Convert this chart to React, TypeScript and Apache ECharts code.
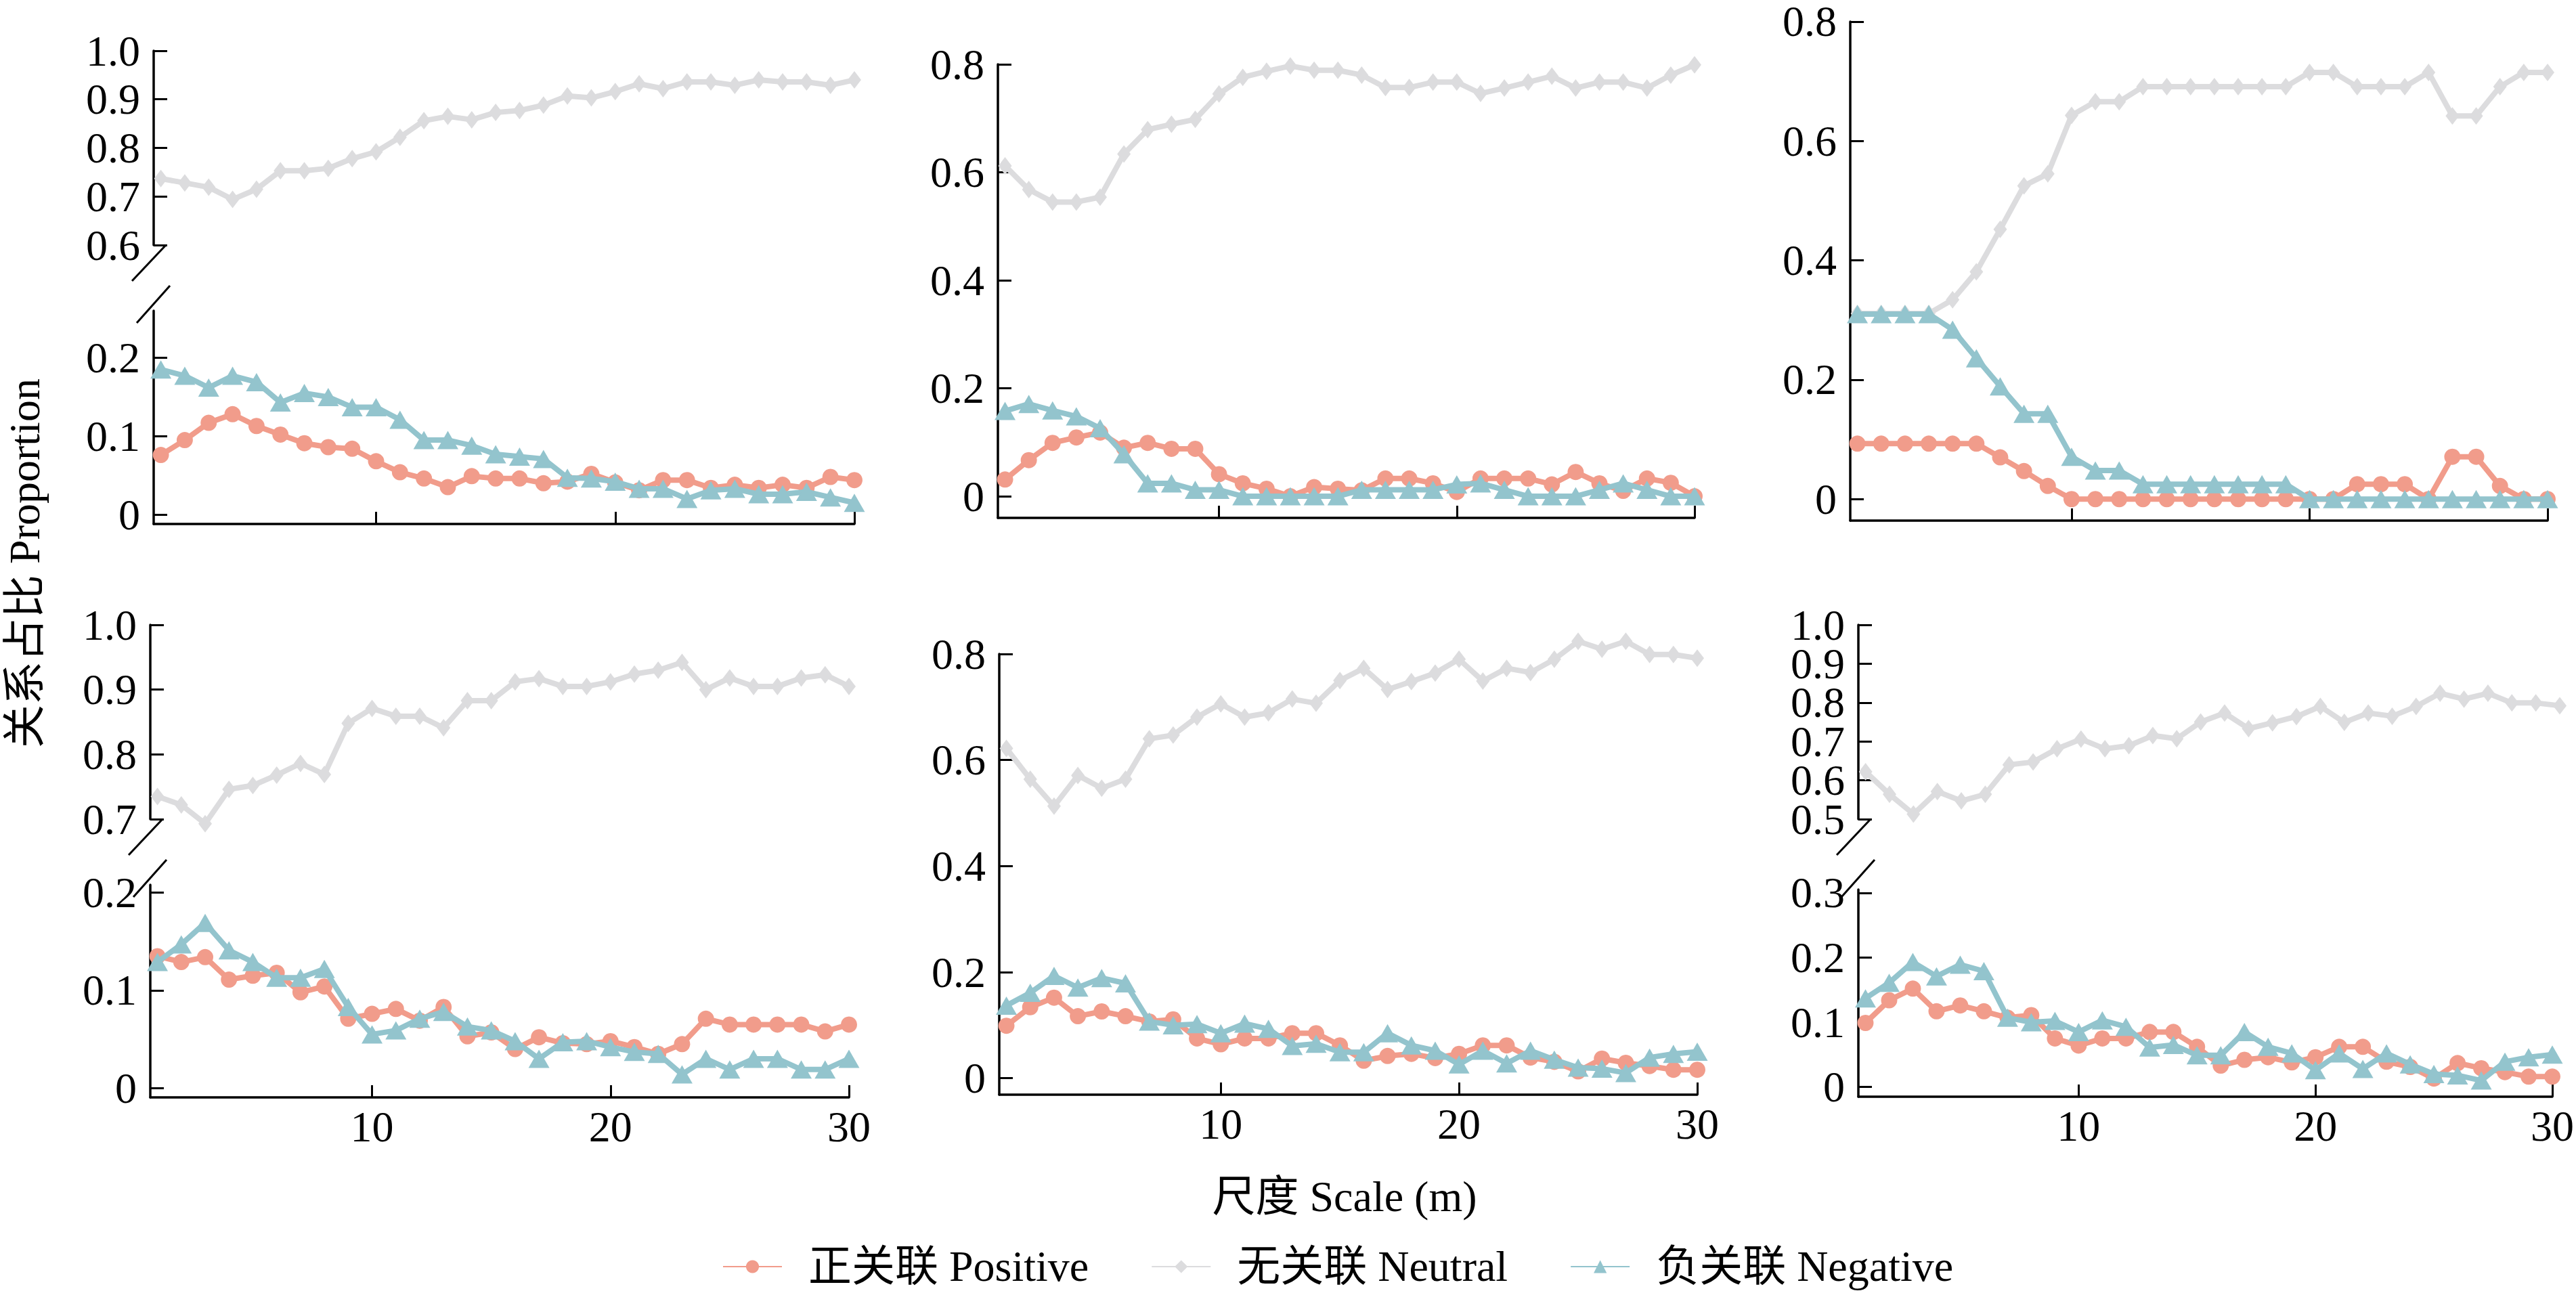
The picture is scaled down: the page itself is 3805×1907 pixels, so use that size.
import { useEffect, useRef } from 'react';
import * as echarts from 'echarts';

// 尺度 (m)
const SCALES = [1, 2, 3, 4, 5, 6, 7, 8, 9, 10, 11, 12, 13, 14, 15, 16, 17, 18, 19, 20, 21, 22, 23, 24, 25, 26, 27, 28, 29, 30];
const X_TICKS = [10, 20, 30];

const NAMES = ['正关联 Positive', '无关联 Neutral', '负关联 Negative'];

// panel 1 (top left)
const P1_POS = [0.076, 0.095, 0.117, 0.128, 0.113, 0.102, 0.091, 0.086, 0.084, 0.068, 0.054, 0.046, 0.035, 0.049, 0.046, 0.046, 0.040, 0.042, 0.052, 0.041, 0.031, 0.044, 0.044, 0.034, 0.038, 0.034, 0.038, 0.034, 0.048, 0.044];
const P1_NEU = [0.737, 0.728, 0.719, 0.694, 0.715, 0.753, 0.753, 0.758, 0.778, 0.792, 0.822, 0.856, 0.865, 0.858, 0.873, 0.877, 0.888, 0.907, 0.903, 0.916, 0.932, 0.922, 0.936, 0.936, 0.929, 0.940, 0.936, 0.936, 0.929, 0.940];
const P1_NEG = [0.185, 0.177, 0.162, 0.177, 0.169, 0.143, 0.155, 0.150, 0.137, 0.137, 0.121, 0.095, 0.095, 0.088, 0.077, 0.074, 0.071, 0.047, 0.046, 0.042, 0.033, 0.033, 0.020, 0.031, 0.033, 0.026, 0.026, 0.029, 0.022, 0.015];

// panel 2 (top middle)
const P2_POS = [0.031, 0.067, 0.099, 0.109, 0.118, 0.090, 0.099, 0.088, 0.088, 0.041, 0.024, 0.014, 0.000, 0.017, 0.014, 0.011, 0.033, 0.033, 0.024, 0.008, 0.033, 0.033, 0.033, 0.022, 0.045, 0.024, 0.010, 0.033, 0.025, 0.000];
const P2_NEU = [0.612, 0.568, 0.545, 0.545, 0.554, 0.634, 0.679, 0.689, 0.698, 0.745, 0.776, 0.787, 0.797, 0.789, 0.789, 0.780, 0.757, 0.757, 0.767, 0.767, 0.746, 0.756, 0.767, 0.778, 0.756, 0.767, 0.767, 0.756, 0.780, 0.799];
const P2_NEG = [0.158, 0.171, 0.159, 0.148, 0.126, 0.078, 0.024, 0.024, 0.012, 0.012, 0, 0, 0, 0, 0, 0.012, 0.012, 0.012, 0.012, 0.022, 0.024, 0.012, 0, 0, 0, 0.012, 0.024, 0.012, 0, 0];

// panel 3 (top right)
const P3_POS = [0.093, 0.093, 0.093, 0.093, 0.093, 0.093, 0.070, 0.047, 0.022, 0, 0, 0, 0, 0, 0, 0, 0, 0, 0, 0, 0, 0.025, 0.025, 0.025, 0, 0.071, 0.071, 0.022, 0, 0];
const P3_NEU = [0.311, 0.311, 0.311, 0.311, 0.334, 0.381, 0.452, 0.525, 0.545, 0.643, 0.666, 0.666, 0.691, 0.691, 0.691, 0.691, 0.691, 0.691, 0.691, 0.715, 0.715, 0.691, 0.691, 0.691, 0.715, 0.642, 0.642, 0.691, 0.715, 0.715];
const P3_NEG = [0.31, 0.31, 0.31, 0.31, 0.284, 0.236, 0.189, 0.143, 0.143, 0.071, 0.048, 0.048, 0.025, 0.025, 0.025, 0.025, 0.025, 0.025, 0.025, 0, 0, 0, 0, 0, 0, 0, 0, 0, 0, 0];

// panel 4 (bottom left)
const P4_POS = [0.135, 0.129, 0.134, 0.111, 0.115, 0.118, 0.098, 0.104, 0.071, 0.076, 0.081, 0.069, 0.083, 0.053, 0.057, 0.040, 0.052, 0.046, 0.045, 0.048, 0.042, 0.035, 0.045, 0.071, 0.065, 0.065, 0.065, 0.065, 0.058, 0.065];
const P4_NEU = [0.735, 0.722, 0.693, 0.746, 0.752, 0.768, 0.786, 0.769, 0.848, 0.871, 0.859, 0.859, 0.841, 0.883, 0.883, 0.912, 0.917, 0.905, 0.905, 0.912, 0.924, 0.930, 0.942, 0.900, 0.918, 0.905, 0.905, 0.918, 0.923, 0.905];
const P4_NEG = [0.129, 0.147, 0.169, 0.141, 0.129, 0.113, 0.113, 0.122, 0.083, 0.055, 0.059, 0.071, 0.078, 0.063, 0.059, 0.048, 0.030, 0.047, 0.048, 0.042, 0.037, 0.035, 0.014, 0.030, 0.019, 0.030, 0.030, 0.019, 0.019, 0.030];

// panel 5 (bottom middle); panel 6 shows the same values
const P5_POS = [0.099, 0.134, 0.152, 0.117, 0.126, 0.117, 0.107, 0.111, 0.075, 0.064, 0.075, 0.075, 0.085, 0.085, 0.062, 0.033, 0.042, 0.046, 0.038, 0.046, 0.062, 0.062, 0.039, 0.031, 0.013, 0.037, 0.029, 0.023, 0.016, 0.016];
const P5_NEU = [0.622, 0.564, 0.513, 0.571, 0.547, 0.564, 0.640, 0.647, 0.681, 0.706, 0.681, 0.689, 0.715, 0.707, 0.750, 0.773, 0.733, 0.748, 0.764, 0.790, 0.749, 0.773, 0.765, 0.790, 0.824, 0.809, 0.824, 0.799, 0.799, 0.792];
const P5_NEG = [0.137, 0.161, 0.193, 0.171, 0.189, 0.179, 0.107, 0.100, 0.102, 0.085, 0.103, 0.093, 0.061, 0.065, 0.049, 0.049, 0.085, 0.062, 0.052, 0.026, 0.052, 0.028, 0.052, 0.035, 0.020, 0.018, 0.010, 0.039, 0.046, 0.050];
const P6_POS = P5_POS;
const P6_NEU = P5_NEU;
const P6_NEG = P5_NEG;

// y tick labels
const TICKS_06_10 = [0.6, 0.7, 0.8, 0.9, 1.0];
const TICKS_07_10 = [0.7, 0.8, 0.9, 1.0];
const TICKS_05_10 = [0.5, 0.6, 0.7, 0.8, 0.9, 1.0];
const TICKS_0_02 = [0, 0.1, 0.2];
const TICKS_0_03 = [0, 0.1, 0.2, 0.3];
const TICKS_0_08 = [0, 0.2, 0.4, 0.6, 0.8];

const COLORS = ['#F19C8B', '#DCDCDE', '#93C4CD'];
const FONT = "'Liberation Serif', 'Noto Sans CJK SC', serif";

interface Part { top: number; bottom: number; min: number; max: number; ticks: number[]; dense?: boolean }
interface Panel {
    left: number; right: number; bottomRow: boolean;
    upper?: Part; lower: Part;
    pos: number[]; neu: number[]; neg: number[];
}

const PANELS: Panel[] = [
    { left: 227, right: 1262, bottomRow: false, pos: P1_POS, neu: P1_NEU, neg: P1_NEG,
      upper: { top: 75, bottom: 362, min: 0.6, max: 1.0, ticks: TICKS_06_10 },
      lower: { top: 459, bottom: 774, min: -0.012, max: 0.26, ticks: TICKS_0_02 } },
    { left: 1474, right: 2503, bottomRow: false, pos: P2_POS, neu: P2_NEU, neg: P2_NEG,
      lower: { top: 95, bottom: 765, min: -0.04, max: 0.8, ticks: TICKS_0_08 } },
    { left: 2733, right: 3763, bottomRow: false, pos: P3_POS, neu: P3_NEU, neg: P3_NEG,
      lower: { top: 20, bottom: 769, min: -0.036, max: 0.8, ticks: TICKS_0_08 } },
    { left: 222, right: 1254, bottomRow: true, pos: P4_POS, neu: P4_NEU, neg: P4_NEG,
      upper: { top: 923, bottom: 1210, min: 0.7, max: 1.0, ticks: TICKS_07_10 },
      lower: { top: 1307, bottom: 1621, min: -0.0095, max: 0.208, ticks: TICKS_0_02 } },
    { left: 1476, right: 2507, bottomRow: true, pos: P5_POS, neu: P5_NEU, neg: P5_NEG,
      lower: { top: 966, bottom: 1617, min: -0.031, max: 0.8, ticks: TICKS_0_08 } },
    { left: 2745, right: 3781, bottomRow: true, pos: P6_POS, neu: P6_NEU, neg: P6_NEG,
      upper: { top: 923, bottom: 1210, min: 0.5, max: 1.0, ticks: TICKS_05_10, dense: true },
      lower: { top: 1314, bottom: 1620, min: -0.015, max: 0.305, ticks: TICKS_0_03 } },
];

const fmt = (v: number) => (Math.abs(v) < 1e-9 ? '0' : v.toFixed(1));

function labelOpt(values: number[]) {
    return {
        customValues: values, formatter: fmt, fontSize: 64, lineHeight: 44,
        fontFamily: FONT, color: '#000', margin: 20, hideOverlap: false,
        showMinLabel: true, showMaxLabel: true,
    };
}

// returns one or two y axes (dense tick labels are split over two axes so none get dropped)
function yAxesFor(gridIndex: number, p: Part) {
    const main = {
        type: 'value', gridIndex, min: p.min, max: p.max,
        axisLine: { show: true, onZero: false, lineStyle: { color: '#000', width: 3.5 } },
        axisTick: { show: true, inside: true, length: 20, lineStyle: { color: '#000', width: 3 }, customValues: p.ticks },
        axisLabel: labelOpt(p.dense ? p.ticks.filter((_, i) => i % 2 === 0) : p.ticks),
        splitLine: { show: false },
    };
    if (!p.dense) return [main];
    const extra = {
        type: 'value', gridIndex, min: p.min, max: p.max, position: 'left', offset: 0,
        axisLine: { show: false, onZero: false },
        axisTick: { show: false },
        axisLabel: labelOpt(p.ticks.filter((_, i) => i % 2 === 1)),
        splitLine: { show: false },
    };
    return [main, extra];
}

function lineSeries(k: number, xi: number, yi: number, vals: number[]) {
    const symbols = ['circle', 'diamond', 'triangle'];
    const sizes: (number | number[])[] = [24, [20, 26], [31, 27]];
    return {
        type: 'line', name: NAMES[k], xAxisIndex: xi, yAxisIndex: yi,
        data: SCALES.map((s, i) => [s, vals[i]]),
        symbol: symbols[k], symbolSize: sizes[k], showSymbol: true,
        lineStyle: { color: COLORS[k], width: 8 },
        itemStyle: { color: COLORS[k] },
        z: 2 + [1, 0, 2][k], clip: false,
    };
}

function buildOption() {
    const grid: any[] = [];
    const xAxis: any[] = [];
    const yAxis: any[] = [];
    const series: any[] = [];
    const graphic: any[] = [];

    PANELS.forEach((p) => {
        const width = p.right - p.left;
        if (p.upper) {
            const gi = grid.length;
            grid.push({ left: p.left, top: p.upper.top, width, height: p.upper.bottom - p.upper.top });
            xAxis.push({ type: 'value', gridIndex: gi, min: 0.7, max: 30, show: false });
            const yi = yAxis.length;
            yAxis.push(...yAxesFor(gi, p.upper));
            series.push(lineSeries(1, gi, yi, p.neu));
            // axis break marks
            const ub = p.upper.bottom;
            graphic.push(
                { type: 'line', shape: { x1: p.left - 32, y1: ub + 53, x2: p.left + 18, y2: ub }, style: { stroke: '#000', lineWidth: 3 } },
                { type: 'line', shape: { x1: p.left - 25, y1: ub + 115, x2: p.left + 24, y2: ub + 60 }, style: { stroke: '#000', lineWidth: 3 } },
            );
        }
        const gi = grid.length;
        grid.push({ left: p.left, top: p.lower.top, width, height: p.lower.bottom - p.lower.top });
        xAxis.push({
            type: 'value', gridIndex: gi, min: 0.7, max: 30,
            axisLine: { show: true, onZero: false, lineStyle: { color: '#000', width: 3.5 } },
            axisTick: { show: true, inside: true, length: 18, lineStyle: { color: '#000', width: 3 }, customValues: X_TICKS },
            axisLabel: { show: p.bottomRow, customValues: X_TICKS, fontSize: 64, lineHeight: 50, fontFamily: FONT, color: '#000', margin: 18 },
            splitLine: { show: false },
        });
        const yi = yAxis.length;
        yAxis.push(...yAxesFor(gi, p.lower));
        if (!p.upper) series.push(lineSeries(1, gi, yi, p.neu));
        series.push(lineSeries(0, gi, yi, p.pos));
        series.push(lineSeries(2, gi, yi, p.neg));
    });

    graphic.push(
        { type: 'text', x: 1986, y: 1767, style: { text: '尺度 Scale (m)', font: `64px ${FONT}`, fill: '#000', textAlign: 'center', textVerticalAlign: 'middle' } },
        { type: 'text', x: 36, y: 832, rotation: Math.PI / 2, style: { text: '关系占比 Proportion', font: `64px ${FONT}`, fill: '#000', textAlign: 'center', textVerticalAlign: 'middle' } },
    );

    return {
        animation: false,
        backgroundColor: '#fff',
        grid, xAxis, yAxis, series, graphic,
        legend: {
            data: NAMES, left: 1062, top: 1834,
            itemWidth: 87, itemHeight: 24, itemGap: 92,
            textStyle: { fontSize: 64, lineHeight: 54, fontFamily: FONT, color: '#000', padding: [0, 0, 0, 34] },
        },
    };
}

export default function App() {
    const chartRef = useRef<HTMLDivElement | null>(null);

    useEffect(() => {
        if (!chartRef.current) return;
        const chart = echarts.init(chartRef.current, undefined, { renderer: 'svg' });
        chart.setOption(buildOption() as any);
        return () => {
            chart.dispose();
        };
    }, []);

    return (
        <div
            ref={chartRef}
            style={{ position: 'absolute', left: 0, top: 0, width: '3805px', height: '1907px' }}
        />
    );
}
